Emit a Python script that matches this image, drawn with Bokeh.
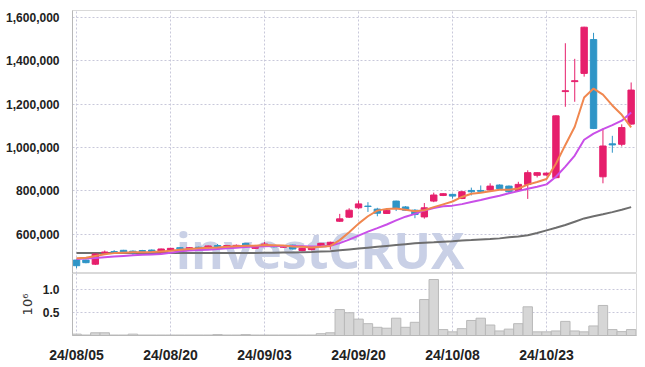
from bokeh.plotting import figure
from bokeh.layouts import column
from bokeh.models import FixedTicker, NumeralTickFormatter, Range1d, ColumnDataSource
from bokeh.embed import file_html
from bokeh.resources import INLINE
from bokeh.core.properties import value

dates = ["24/08/05", "24/08/06", "24/08/07", "24/08/08", "24/08/09", "24/08/12", "24/08/13", "24/08/14", "24/08/16", "24/08/19",
         "24/08/20", "24/08/21", "24/08/22", "24/08/23", "24/08/26", "24/08/27", "24/08/28", "24/08/29", "24/08/30", "24/09/02",
         "24/09/03", "24/09/04", "24/09/05", "24/09/06", "24/09/09", "24/09/10", "24/09/11", "24/09/12", "24/09/13", "24/09/19",
         "24/09/20", "24/09/23", "24/09/24", "24/09/25", "24/09/26", "24/09/27", "24/09/30", "24/10/02", "24/10/04", "24/10/07",
         "24/10/08", "24/10/10", "24/10/11", "24/10/14", "24/10/15", "24/10/16", "24/10/17", "24/10/18", "24/10/21", "24/10/22",
         "24/10/23", "24/10/24", "24/10/25", "24/10/28", "24/10/29", "24/10/30", "24/10/31", "24/11/01", "24/11/04", "24/11/05"]

opens = [481000, 481000, 462000, 514000, 520000, 526000, 522000, 525000, 527000, 518000,
         525000, 538000, 535000, 540000, 537000, 548000, 545000, 546000, 558000, 535000,
         549000, 545000, 540000, 550000, 525000, 529000, 544000, 550000, 660000, 679000,
         722000, 730000, 716000, 696000, 753000, 726000, 711000, 680000, 753000, 779000,
         784000, 765000, 802000, 802000, 804000, 827000, 822000, 802000, 830000, 872000,
         873000, 861000, 1258000, 1304000, 1342000, 1498000, 865000, 1017000, 1015000, 1108000]
highs = [484000, 483000, 511000, 525000, 527000, 528000, 526000, 528000, 530000, 534000,
         537000, 540000, 541000, 543000, 548000, 555000, 551000, 553000, 560000, 551000,
         565000, 548000, 548000, 552000, 537000, 542000, 560000, 566000, 694000, 720000,
         755000, 748000, 722000, 716000, 755000, 730000, 716000, 744000, 792000, 790000,
         787000, 800000, 815000, 825000, 835000, 830000, 825000, 842000, 895000, 886000,
         884000, 1148000, 1481000, 1409000, 1557000, 1529000, 1088000, 1054000, 1107000, 1300000]
lows = [444000, 466000, 458000, 508000, 510000, 514000, 505000, 516000, 518000, 516000,
        522000, 530000, 532000, 534000, 535000, 540000, 542000, 543000, 546000, 532000,
        543000, 539000, 537000, 529000, 522000, 526000, 541000, 529000, 657000, 675000,
        717000, 703000, 683000, 694000, 707000, 708000, 674000, 672000, 748000, 776000,
        764000, 762000, 779000, 793000, 800000, 808000, 790000, 800000, 763000, 862000,
        870000, 858000, 1188000, 1211000, 1327000, 1085000, 835000, 976000, 1005000, 1105000]
closes = [455000, 469000, 509000, 518000, 517000, 518000, 514000, 520000, 521000, 532000,
          535000, 533000, 538000, 537000, 546000, 543000, 548000, 549000, 549000, 548000,
          555000, 542000, 545000, 532000, 535000, 540000, 558000, 563000, 671000, 711000,
          740000, 728000, 697000, 711000, 719000, 711000, 691000, 722000, 781000, 787000,
          776000, 796000, 796000, 798000, 822000, 811000, 796000, 830000, 884000, 884000,
          882000, 1146000, 1262000, 1308000, 1555000, 1088000, 1007000, 1012000, 1092000, 1265000]

ma5 = [489000, 492000, 500000, 508000, 513000, 515000, 517000, 517000, 518000, 521000,
       524000, 528000, 532000, 535000, 538000, 539000, 542000, 545000, 547000, 547000,
       550000, 549000, 548000, 544000, 542000, 539000, 542000, 546000, 573000, 609000,
       649000, 683000, 709000, 717000, 719000, 713000, 706000, 711000, 725000, 738000,
       751000, 772000, 787000, 791000, 798000, 805000, 805000, 811000, 829000, 841000,
       855000, 925000, 1012000, 1096000, 1231000, 1272000, 1244000, 1194000, 1151000, 1093000]
ma10 = [486000, 488000, 491000, 494000, 497000, 500000, 503000, 505000, 507000, 509000,
        515000, 522000, 525000, 527000, 529000, 532000, 535000, 538000, 541000, 543000,
        545000, 546000, 546000, 546000, 545000, 544000, 545000, 547000, 559000, 575000,
        594000, 612000, 628000, 645000, 664000, 681000, 694000, 710000, 721000, 729000,
        732000, 739000, 749000, 758000, 768000, 778000, 789000, 799000, 810000, 819000,
        830000, 865000, 912000, 963000, 1036000, 1064000, 1085000, 1103000, 1124000, 1162000]
ma60 = [513000, 513000, 513000, 513000, 513000, 513000, 513000, 513000, 513000, 513000,
        513000, 513000, 513000, 513000, 513000, 513000, 513000, 513000, 514000, 514000,
        515000, 515000, 516000, 516000, 517000, 518000, 520000, 522000, 526000, 530000,
        534000, 538000, 542000, 546000, 550000, 554000, 558000, 561000, 563000, 566000,
        568000, 571000, 573000, 576000, 578000, 581000, 586000, 590000, 595000, 606000,
        618000, 630000, 643000, 658000, 673000, 683000, 692000, 702000, 713000, 725000]

volumes_m = [0.03, 0.01, 0.06, 0.06, 0.01, 0.01, 0.03, 0.01, 0.01, 0.01,
             0.01, 0.01, 0.01, 0.01, 0.01, 0.02, 0.01, 0.01, 0.02, 0.01,
             0.01, 0.01, 0.01, 0.01, 0.01, 0.01, 0.04, 0.06, 0.57, 0.50,
             0.36, 0.26, 0.18, 0.16, 0.38, 0.18, 0.29, 0.79, 1.23, 0.13,
             0.08, 0.15, 0.33, 0.38, 0.23, 0.10, 0.14, 0.26, 0.63, 0.08,
             0.08, 0.10, 0.31, 0.10, 0.08, 0.21, 0.66, 0.13, 0.085, 0.13]

price_ticks = [600000, 800000, 1000000, 1200000, 1400000, 1600000]
volume_ticks = [0.5, 1.0]
date_tick_index = [0, 10, 20, 30, 40, 50]

UP = "#e61f6c"
DOWN = "#2f95c7"
LABEL_FONT = "Liberation Sans"
GRID = "#c8c8da"

idx = list(range(len(dates)))
colors = [UP if c >= o else DOWN for o, c in zip(opens, closes)]
src = ColumnDataSource(dict(
    x=idx, open=opens, high=highs, low=lows, close=closes,
    top=[max(o, c) for o, c in zip(opens, closes)],
    bottom=[min(o, c) for o, c in zip(opens, closes)],
    color=colors, ma5=ma5, ma10=ma10, ma60=ma60, vol=volumes_m,
))

x_range = Range1d(-0.43, 59.57)

p1 = figure(width=640, height=273, x_range=x_range, y_range=Range1d(419000, 1632000),
            output_backend="svg", toolbar_location=None, x_axis_location=None,
            min_border_left=72, min_border_right=4, min_border_top=10, min_border_bottom=0)
p1.outline_line_color = "#d9d9d9"

# watermark
p1.text(x=[10.55], y=[529000], text=["investCRUX"], text_font=value("Open Sans"),
        text_font_style="bold", text_font_size="50px", text_color="#c9d0e6",
        text_baseline="alphabetic", text_align="left")

p1.line("x", "ma60", source=src, line_color="#6e6e6e", line_width=2)
p1.segment(x0="x", y0="low", x1="x", y1="high", source=src, line_color="color", line_width=1)
p1.vbar(x="x", width=0.68, top="top", bottom="bottom", source=src, fill_color="color", line_color="color")
p1.line("x", "ma10", source=src, line_color="#c94fe8", line_width=2)
p1.line("x", "ma5", source=src, line_color="#f0874f", line_width=2)

p1.yaxis.ticker = FixedTicker(ticks=price_ticks)
p1.yaxis.formatter = NumeralTickFormatter(format="0,0")

p2 = figure(width=640, height=92, x_range=x_range, y_range=Range1d(0, 1.362),
            output_backend="svg", toolbar_location=None,
            min_border_left=72, min_border_right=4, min_border_top=0, min_border_bottom=28)
p2.outline_line_color = "#d9d9d9"
p2.vbar(x="x", width=1.0, top="vol", bottom=0, source=src, fill_color="#d6d6d6", line_color="#b9b9b9", line_width=1)
p2.yaxis.ticker = FixedTicker(ticks=volume_ticks)
p2.yaxis.formatter = NumeralTickFormatter(format="0.0")
p2.yaxis.axis_label = "10⁶"
p2.yaxis.axis_label_text_font = "DejaVu Sans"
p2.yaxis.axis_label_text_font_style = "normal"
p2.yaxis.axis_label_text_font_size = "13px"
p2.yaxis.axis_label_text_color = "#333333"
p2.yaxis.axis_label_standoff = 5
p2.xaxis.ticker = FixedTicker(ticks=date_tick_index)
p2.xaxis.major_label_overrides = {i: dates[i] for i in date_tick_index}

for p in (p1, p2):
    for ax in list(p.xaxis) + list(p.yaxis):
        ax.axis_line_color = "#b8b8b8"
        ax.major_tick_line_color = None
        ax.minor_tick_line_color = None
        ax.major_label_text_font = LABEL_FONT
        ax.major_label_text_font_style = "bold"
        ax.major_label_text_font_size = "12px"
        ax.major_label_text_color = "#222222"
        ax.major_label_standoff = 7
    p.xgrid.ticker = FixedTicker(ticks=date_tick_index)
    p.xgrid.grid_line_color = GRID
    p.ygrid.grid_line_color = GRID
    p.xgrid.grid_line_dash = "2 2"
    p.ygrid.grid_line_dash = "2 2"
p2.xaxis.major_label_standoff = 5
p2.xaxis.major_label_text_font_size = "14px"

layout = column(p1, p2, spacing=0)
open("out.html", "w").write(file_html(layout, INLINE))
